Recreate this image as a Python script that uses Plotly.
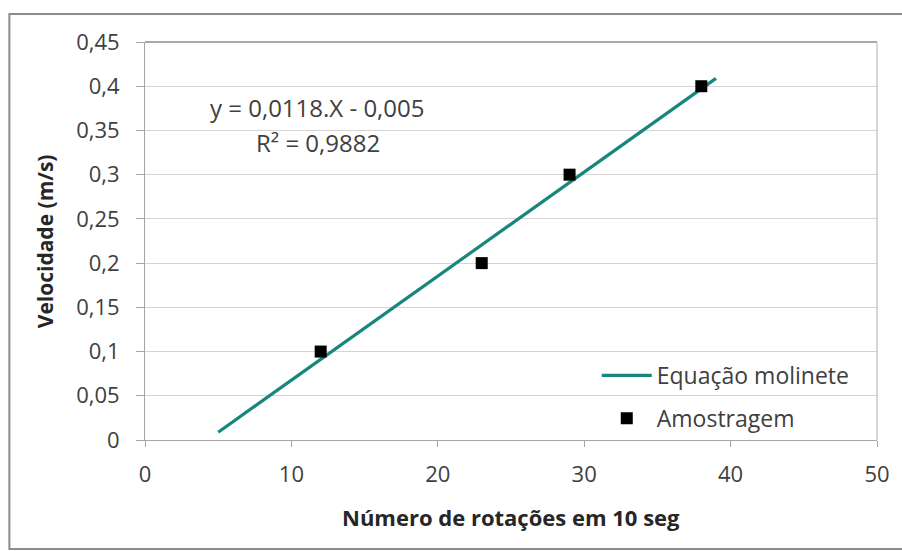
import numpy as np
import plotly.graph_objects as go

# Sampled points: rotations counted in 10 s vs. measured velocity
rotacoes = [12, 23, 29, 38]
velocidade = [0.1, 0.2, 0.3, 0.4]

# Trend line drawn over this x span
linha_x = [5, 39]

equacao_txt = "y = 0,0118.X - 0,005"
r2_txt = "R² = 0,9882"

x_ticks = [0, 10, 20, 30, 40, 50]
y_ticks = [0, 0.05, 0.1, 0.15, 0.2, 0.25, 0.3, 0.35, 0.4, 0.45]

# Least-squares fit of the samples
coef = np.polyfit(rotacoes, velocidade, 1)
linha_y = list(np.polyval(coef, linha_x))

FONT = "Open Sans"
TXT = "#404040"
GRID = "#d4d4d4"
TEAL = "#17877c"

fig = go.Figure()
fig.add_trace(go.Scatter(
    x=linha_x, y=linha_y, mode="lines", name="Equação molinete",
    line=dict(color=TEAL, width=3.2), legendgroup="a",
))
fig.add_trace(go.Scatter(
    x=rotacoes, y=velocidade, mode="markers", name="Amostragem",
    marker=dict(symbol="square", color="#000000", size=12), legendgroup="b",
))

axis_common = dict(
    showline=True, linecolor="#a6a6a6", linewidth=1,
    gridcolor=GRID, gridwidth=1,
    ticks="outside", tickcolor="#a6a6a6",
    zeroline=False, tickfont=dict(family=FONT, size=22, color=TXT),
    mirror=False, fixedrange=True,
)

fig.update_xaxes(range=[0, 50], tickvals=x_ticks, ticklen=6,
                 ticklabelstandoff=9, showgrid=False, **axis_common)
fig.update_yaxes(range=[0, 0.45], tickvals=y_ticks, ticklen=8,
                 ticklabelstandoff=12, showgrid=True, **axis_common)

W, H = 902, 551
L, R, T, B = 145, 23, 42, 111
pw, ph = W - L - R, H - T - B


def px(x):
    return (x - L) / pw


def py(y):
    return (H - B - y) / ph


shapes = [
    # plot area top and right edges
    dict(type="line", xref="paper", yref="paper", x0=0, x1=1, y0=1, y1=1,
         line=dict(color="#8c8c8c", width=1.5)),
    dict(type="line", xref="paper", yref="paper", x0=1, x1=1, y0=0, y1=1,
         line=dict(color="#b0b0b0", width=1)),
    # chart frame
    dict(type="rect", xref="paper", yref="paper",
         x0=px(9), x1=px(910), y0=py(549), y1=py(14),
         line=dict(color="#8c8c8c", width=2), layer="below"),
]

annotations = [
    dict(text=equacao_txt, x=px(318), y=py(107), xref="paper", yref="paper",
         showarrow=False, xanchor="center", yanchor="middle",
         font=dict(family=FONT, size=24, color=TXT)),
    dict(text=r2_txt, x=px(318), y=py(142), xref="paper", yref="paper",
         showarrow=False, xanchor="center", yanchor="middle",
         font=dict(family=FONT, size=24, color=TXT)),
    dict(text="<b>Número de rotações em 10 seg</b>", x=0.5, y=py(517),
         xref="paper", yref="paper", showarrow=False,
         xanchor="center", yanchor="middle",
         font=dict(family=FONT, size=22, color="#262626")),
    dict(text="<b>Velocidade (m/s)</b>", x=px(45), y=0.5, textangle=-90,
         xref="paper", yref="paper", showarrow=False,
         xanchor="center", yanchor="middle",
         font=dict(family=FONT, size=21, color="#262626")),
]

fig.update_layout(
    width=W, height=H,
    margin=dict(l=L, r=R, t=T, b=B, pad=0),
    paper_bgcolor="#ffffff", plot_bgcolor="#ffffff",
    separators=",.",
    showlegend=True,
    legend=dict(
        x=px(598), y=py(354), xanchor="left", yanchor="top",
        bgcolor="rgba(0,0,0,0)", borderwidth=0,
        font=dict(family=FONT, size=23, color=TXT),
        itemwidth=50, traceorder="grouped", tracegroupgap=10,
    ),
    shapes=shapes, annotations=annotations,
)

fig.write_html("out.html")
